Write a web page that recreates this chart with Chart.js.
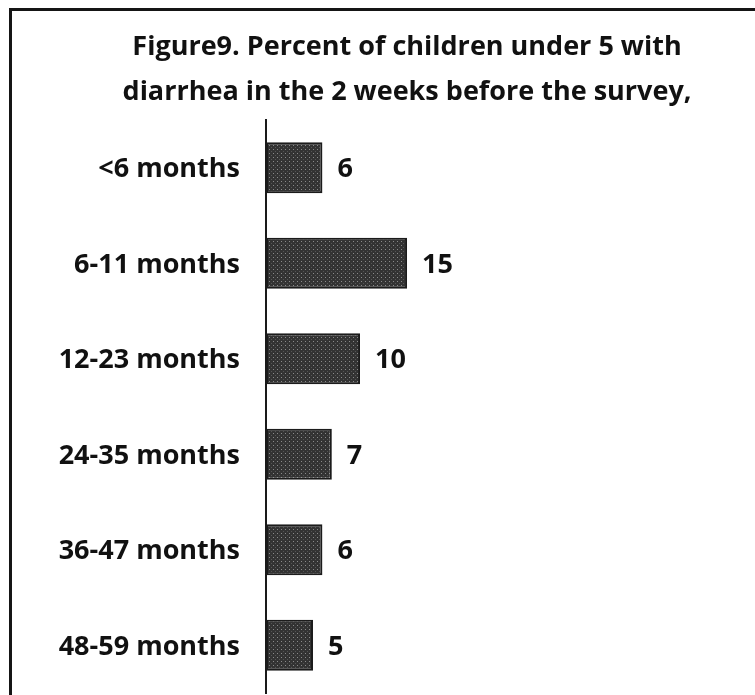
<!DOCTYPE html>
<html>
<head>
<meta charset="utf-8">
<script src="https://cdn.jsdelivr.net/npm/chart.js@4"></script>
<style>
  html, body { margin: 0; padding: 0; background: #fff; }
  #wrap { position: relative; width: 755px; height: 695px; overflow: hidden; }
  #frame { position: absolute; left: 9px; top: 8px; width: 800px; height: 800px;
           border-left: 3px solid #151515; border-top: 3px solid #151515; pointer-events: none; }
  canvas { position: absolute; left: 0; top: 0; }
</style>
</head>
<body>
<div id="wrap">
  <canvas id="c" width="755" height="695"></canvas>
  <div id="frame"></div>
</div>
<script>
// Age groups and share (%) of children with diarrhea in the past 2 weeks
const ageGroups = ['<6 months', '6-11 months', '12-23 months', '24-35 months', '36-47 months', '48-59 months'];
const percentWithDiarrhea = [6, 15, 10, 7, 6, 5];
const titleLines = ['Figure9. Percent of children under 5 with', 'diarrhea in the 2 weeks before the survey,'];

const FONT = '"Open Sans", Lato, "Liberation Sans", sans-serif';
const INK = '#111111';

// Dark halftone-like fill for the bars
function makeDotPattern(ctx) {
  const p = document.createElement('canvas');
  p.width = 4; p.height = 4;
  const g = p.getContext('2d');
  g.fillStyle = '#333333';
  g.fillRect(0, 0, 4, 4);
  g.fillStyle = '#8a8a8a';
  g.fillRect(1, 1, 1, 1);
  g.fillStyle = '#555555';
  g.fillRect(3, 3, 1, 1);
  return ctx.createPattern(p, 'repeat');
}

// Value printed just past the end of each bar
const valueLabels = {
  id: 'valueLabels',
  afterDatasetsDraw(chart) {
    const ctx = chart.ctx;
    const meta = chart.getDatasetMeta(0);
    ctx.save();
    ctx.font = 'bold 27px ' + FONT;
    ctx.fillStyle = INK;
    ctx.textAlign = 'left';
    ctx.textBaseline = 'middle';
    meta.data.forEach((bar, i) => {
      ctx.fillText(String(percentWithDiarrhea[i]), bar.x + 15, bar.y + 2);
    });
    ctx.restore();
  }
};

const canvas = document.getElementById('c');
const ctx = canvas.getContext('2d');

new Chart(ctx, {
  type: 'bar',
  data: {
    labels: ageGroups,
    datasets: [{
      data: percentWithDiarrhea,
      backgroundColor: makeDotPattern(ctx),
      borderColor: '#1b1b1b',
      borderWidth: 2,
      borderSkipped: false,
      categoryPercentage: 1,
      barPercentage: 0.535
    }]
  },
  options: {
    indexAxis: 'y',
    responsive: false,
    animation: false,
    layout: { padding: { left: 50, right: -9, top: 0, bottom: 2 } },
    plugins: {
      legend: { display: false },
      tooltip: { enabled: false },
      title: {
        display: true,
        text: titleLines,
        color: INK,
        font: { family: FONT, size: 27, weight: 'bold', lineHeight: 1.667 },
        padding: { top: 25, bottom: 5 }
      }
    },
    scales: {
      x: {
        display: false,
        min: 0,
        max: 52
      },
      y: {
        afterFit(scale) {
          scale.width = 216;
          scale.paddingTop = 0;
          scale.paddingBottom = 0;
        },
        grid: { display: false, drawTicks: false },
        border: { display: true, color: '#1a1a1a', width: 2 },
        ticks: {
          color: INK,
          padding: 26,
          labelOffset: 2,
          font: { family: FONT, size: 27, weight: 'bold' }
        }
      }
    }
  },
  plugins: [valueLabels]
});
</script>
</body>
</html>
